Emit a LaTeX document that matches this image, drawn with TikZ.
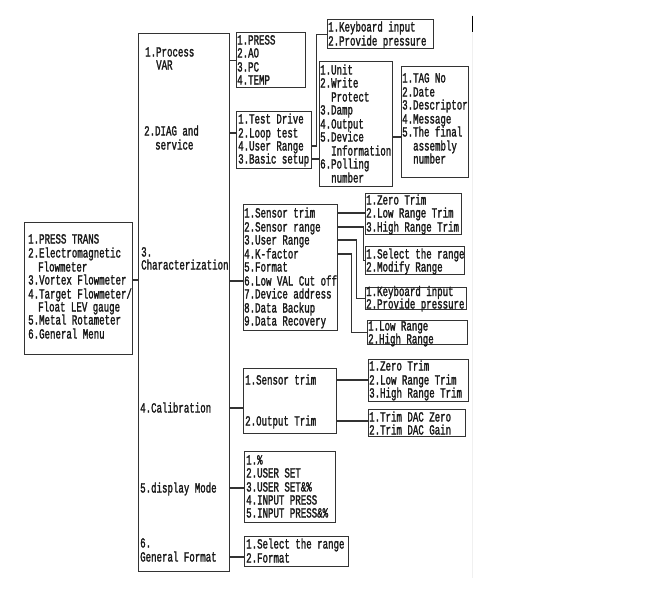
\documentclass[tikz,border=0pt]{standalone}
\usepackage{fontspec}
\newfontfamily\menufont[FakeStretch=0.65,FakeBold=1.6]{Liberation Mono}
\tikzset{menubox/.style = {draw=black!80, line width=1.4pt, inner sep=0pt, anchor=north west},
         item/.style = {anchor=west, inner sep=0pt, text height=9pt, text depth=0pt, text=black!90,
                        font=\menufont\fontsize{14pt}{14pt}\selectfont},
         link/.style = {draw=black!80, line width=1.1pt}}

\begin{document}
\begin{tikzpicture}[x=1pt, y=-1pt]
  \useasboundingbox (0,0) rectangle (650,590);
  % main menu column
  \node[menubox, minimum width=91pt, minimum height=538pt] (col) at (138,33) {};
  \node[item] (m1)  at (145,52)  {1.Process};
  \node[item] (m1b) at (156,65)  {VAR};
  \node[item] (m2)  at (144,131) {2.DIAG and};
  \node[item] (m2b) at (155,145) {service};
  \node[item] (m3)  at (141,252) {3.};
  \node[item] (m3b) at (141,265) {Characterization};
  \node[item] (m4)  at (140,408) {4.Calibration};
  \node[item] (m5)  at (140,488) {5.display Mode};
  \node[item] (m6)  at (140,543) {6.};
  \node[item] (m6b) at (140,557) {General Format};
  % instrument list
  \node[menubox, minimum width=108pt, minimum height=132pt] (trans) at (24,222) {};
  \node[item] (t1)  at (28,239) {1.PRESS TRANS};
  \node[item] (t2)  at (28,253) {2.Electromagnetic};
  \node[item] (t2b) at (38,267) {Flowmeter};
  \node[item] (t3)  at (28,280) {3.Vortex Flowmeter};
  \node[item] (t4)  at (28,294) {4.Target Flowmeter/};
  \node[item] (t4b) at (38,307) {Float LEV gauge};
  \node[item] (t5)  at (28,320) {5.Metal Rotameter};
  \node[item] (t6)  at (28,334) {6.General Menu};
  \draw[link] (t3 -| trans.east) -- (t3 -| col.west);
  % process variables
  \node[menubox, minimum width=69pt, minimum height=55pt] (var) at (236,32) {};
  \node[item] (v1) at (237,40) {1.PRESS};
  \node[item] (v2) at (237,53) {2.AO};
  \node[item] (v3) at (237,67) {3.PC};
  \node[item] (v4) at (237,80) {4.TEMP};
  \draw[link] (var.west -| col.east) -- (var.west);
  % diag and service
  \node[menubox, minimum width=75pt, minimum height=57pt] (diag) at (236,111) {};
  \node[item] (d1) at (238,119) {1.Test Drive};
  \node[item] (d2) at (238,133) {2.Loop test};
  \node[item] (d3) at (238,146) {4.User Range};
  \node[item] (d4) at (238,159) {3.Basic setup};
  \draw[link] (d2 -| col.east) -- (d2 -| diag.west);
  \node[menubox, minimum width=106pt, minimum height=29pt] (kbd) at (327,19) {};
  \node[item] (k1) at (328,27) {1.Keyboard input};
  \node[item] (k2) at (328,41) {2.Provide pressure};
  \draw[link] (d3 -| diag.east) -- ++(4,0) |- (kbd.west);
  \node[menubox, minimum width=73pt, minimum height=125pt] (setup) at (319,61) {};
  \node[item] (u1)  at (320,70)  {1.Unit};
  \node[item] (u2)  at (320,83)  {2.Write};
  \node[item] (u2b) at (331,97)  {Protect};
  \node[item] (u3)  at (320,110) {3.Damp};
  \node[item] (u4)  at (320,124) {4.Output};
  \node[item] (u5)  at (320,137) {5.Device};
  \node[item] (u5b) at (331,151) {Information};
  \node[item] (u6)  at (320,164) {6.Polling};
  \node[item] (u6b) at (331,178) {number};
  \draw[link] (d4 -| diag.east) -- (d4 -| setup.west);
  \node[menubox, minimum width=67pt, minimum height=111pt] (info) at (401,66) {};
  \node[item] (i1)  at (402,78)  {1.TAG No};
  \node[item] (i2)  at (402,92)  {2.Date};
  \node[item] (i3)  at (402,105) {3.Descriptor};
  \node[item] (i4)  at (402,119) {4.Message};
  \node[item] (i5)  at (402,132) {5.The final};
  \node[item] (i5b) at (413,146) {assembly};
  \node[item] (i5c) at (413,159) {number};
  \draw[link] (u5 -| setup.east) -- (u5 -| info.west);
  % characterization
  \node[menubox, minimum width=94pt, minimum height=126pt] (sens) at (243,204) {};
  \node[item] (s1) at (244,213) {1.Sensor trim};
  \node[item] (s2) at (244,227) {2.Sensor range};
  \node[item] (s3) at (244,240) {3.User Range};
  \node[item] (s4) at (244,254) {4.K-factor};
  \node[item] (s5) at (244,267) {5.Format};
  \node[item] (s6) at (244,281) {6.Low VAL Cut off};
  \node[item] (s7) at (244,294) {7.Device address};
  \node[item] (s8) at (244,308) {8.Data Backup};
  \node[item] (s9) at (244,321) {9.Data Recovery};
  \draw[link] (s6 -| col.east) -- (s6 -| sens.west);
  \node[menubox, minimum width=96pt, minimum height=41pt] (strim) at (365,193) {};
  \node[item] (r1) at (366,200) {1.Zero Trim};
  \node[item] (r2) at (366,213) {2.Low Range Trim};
  \node[item] (r3) at (366,227) {3.High Range Trim};
  \draw[link] (s1 -| sens.east) -- (s1 -| strim.west);
  \node[menubox, minimum width=99pt, minimum height=28pt] (range) at (365,246) {};
  \node[item] (g1) at (366,254) {1.Select the range};
  \node[item] (g2) at (366,267) {2.Modify Range};
  \draw[link] (s2 -| sens.east) -- ++(25,0) |- (range.west);
  \node[menubox, minimum width=101pt, minimum height=22pt] (kbdb) at (365,287) {};
  \node[item] (b1) at (366,291.5) {1.Keyboard input};
  \node[item] (b2) at (366,304) {2.Provide pressure};
  \draw[link] (s3 -| sens.east) -- ++(18,0) |- (kbdb.west);
  \node[menubox, minimum width=100pt, minimum height=24pt] (lim) at (367,320) {};
  \node[item] (l1) at (368,326) {1.Low Range};
  \node[item] (l2) at (368,339) {2.High Range};
  \draw[link] (s4 -| sens.east) -- ++(13,0) |- (lim.west);
  % calibration
  \node[menubox, minimum width=93pt, minimum height=65pt] (cal) at (243,368) {};
  \node[item] (c1) at (245,380) {1.Sensor trim};
  \node[item] (c2) at (245,421) {2.Output Trim};
  \draw[link] (m4 -| col.east) -- (m4 -| cal.west);
  \node[menubox, minimum width=100pt, minimum height=42pt] (ctrim) at (368,359) {};
  \node[item] (z1) at (369,366) {1.Zero Trim};
  \node[item] (z2) at (369,380) {2.Low Range Trim};
  \node[item] (z3) at (369,393) {3.High Range Trim};
  \draw[link] (c1 -| cal.east) -- (c1 -| ctrim.west);
  \node[menubox, minimum width=97pt, minimum height=27pt] (dac) at (368,409) {};
  \node[item] (a1) at (369,417) {1.Trim DAC Zero};
  \node[item] (a2) at (369,430) {2.Trim DAC Gain};
  \draw[link] (c2 -| cal.east) -- (c2 -| dac.west);
  % display mode
  \node[menubox, minimum width=91pt, minimum height=71pt] (disp) at (244,451) {};
  \node[item] (p1) at (246,460) {1.\%};
  \node[item] (p2) at (246,473) {2.USER SET};
  \node[item] (p3) at (246,487) {3.USER SET\&\%};
  \node[item] (p4) at (246,500) {4.INPUT PRESS};
  \node[item] (p5) at (246,513) {5.INPUT PRESS\&\%};
  \draw[link] (m5 -| col.east) -- (m5 -| disp.west);
  % general format
  \node[menubox, minimum width=104pt, minimum height=30pt] (fmt) at (244,536) {};
  \node[item] (f1) at (246,544) {1.Select the range};
  \node[item] (f2) at (246,558) {2.Format};
  \draw[link] (m6b -| col.east) -- (m6b -| fmt.west);
  % page edge
  \draw[black!6, line width=1pt] (472,15) -- (472,578);
  \draw[black, line width=1pt] (472,16) -- (472,32);
\end{tikzpicture}
\end{document}
